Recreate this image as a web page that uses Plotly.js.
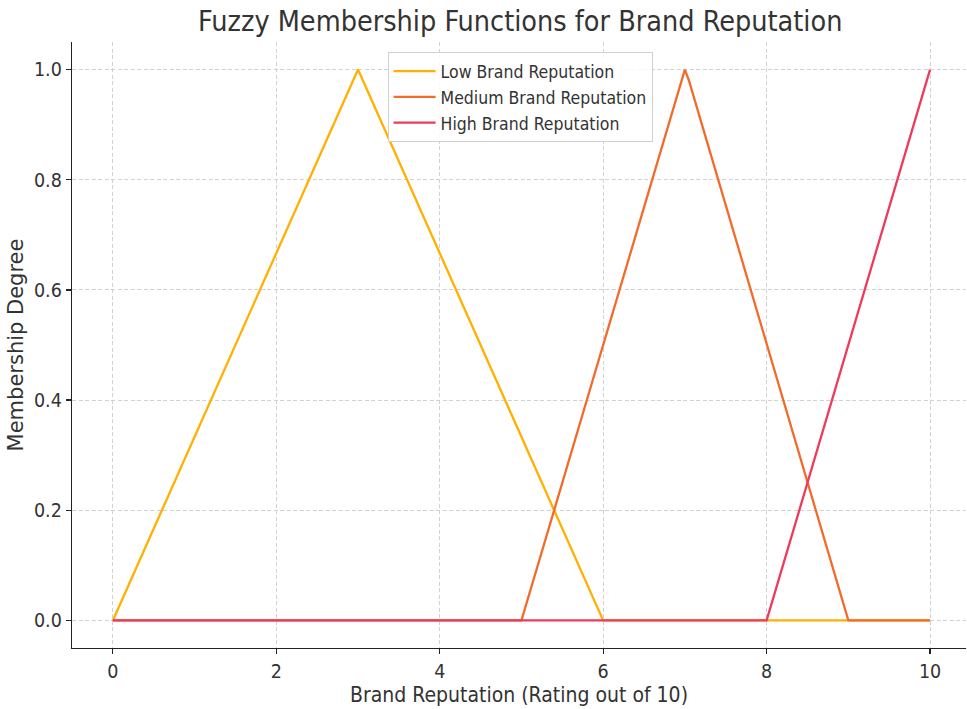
<!DOCTYPE html>
<html>
<head>
<meta charset="utf-8">
<script src="https://cdn.plot.ly/plotly-3.0.1.min.js"></script>
<style>html,body{margin:0;padding:0;background:#fff;}#chart{width:967px;height:709px;}</style>
</head>
<body>
<div id="chart"></div>
<script>
const seriesNames = ["Low Brand Reputation", "Medium Brand Reputation", "High Brand Reputation"];
const lowX = [0, 3, 6, 10];
const lowY = [0, 1, 0, 0];
const medX = [0, 5, 7, 7.05, 9, 10];
const medY = [0, 0, 1, 0.98, 0, 0];
const highX = [0, 8, 10];
const highY = [0, 0, 1];
const xTicks = [0, 2, 4, 6, 8, 10];
const yTicks = [0, 0.2, 0.4, 0.6, 0.8, 1.0];
const yTickLabels = ["0.0", "0.2", "0.4", "0.6", "0.8", "1.0"];
const colors = ["#FFB000", "#F26B2A", "#EE3A5C"];

const FONT = "DejaVu Sans Condensed, Liberation Sans Narrow, DejaVu Sans, sans-serif";
const FONT_REG = "DejaVu Sans, sans-serif";

const traces = [
  {x: lowX, y: lowY, name: seriesNames[0]},
  {x: medX, y: medY, name: seriesNames[1]},
  {x: highX, y: highY, name: seriesNames[2]}
].map((t, i) => Object.assign(t, {
  type: "scatter", mode: "lines",
  line: {color: colors[i], width: 2.3}
}));

const layout = {
  width: 967, height: 709,
  margin: {l: 72, r: 1, t: 42, b: 61},
  paper_bgcolor: "#fff", plot_bgcolor: "#fff",
  font: {family: FONT, color: "#333", size: 19},
  title: {text: "Fuzzy Membership Functions for Brand Reputation", font: {family: FONT, size: 28.5, color: "#333"}, x: 0.538, xanchor: "center", y: 0.97, yanchor: "middle"},
  xaxis: {
    range: [-0.5, 10.44], tickvals: xTicks, ticktext: xTicks.map(String),
    showline: true, linecolor: "#222", linewidth: 1.3, mirror: false,
    ticks: "outside", ticklen: 5, tickcolor: "#222", tickwidth: 1.2,
    showgrid: true, gridcolor: "#d2d2d2", griddash: "4px,2.5px", gridwidth: 1,
    zeroline: false, tickfont: {size: 19.5, color: "#333"},
    title: {text: "Brand Reputation (Rating out of 10)", font: {size: 21, color: "#333"}, standoff: 4}
  },
  yaxis: {
    range: [-0.05, 1.05], tickvals: yTicks, ticktext: yTickLabels,
    showline: true, linecolor: "#222", linewidth: 1.3, mirror: false,
    ticks: "outside", ticklen: 5, tickcolor: "#222", tickwidth: 1.2,
    showgrid: true, gridcolor: "#d2d2d2", griddash: "4px,2.5px", gridwidth: 1,
    zeroline: false, tickfont: {size: 19.5, color: "#333"},
    title: {text: "Membership Degree", font: {family: FONT_REG, size: 21, color: "#333"}, standoff: 4}
  },
  showlegend: true,
  legend: {
    x: 0.353, y: 0.983, xanchor: "left", yanchor: "top",
    bgcolor: "rgba(255,255,255,0.85)", bordercolor: "#d0d0d0", borderwidth: 1,
    font: {size: 17.5, color: "#333"}, tracegroupgap: 0, itemwidth: 42
  }
};

Plotly.newPlot("chart", traces, layout, {displayModeBar: false, staticPlot: true});
</script>
</body>
</html>
